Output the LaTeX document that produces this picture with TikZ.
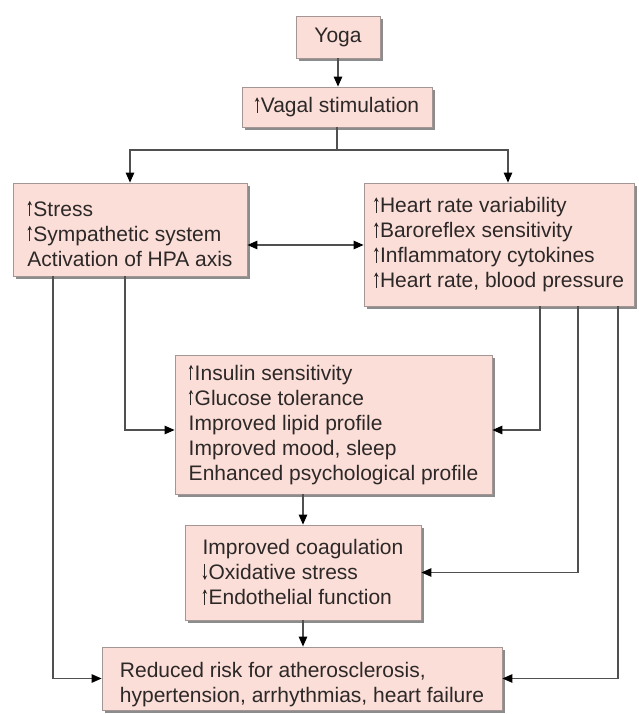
\documentclass[tikz,border=0pt]{standalone}
\usepackage{fontspec}
\setmainfont{Liberation Sans}
\usetikzlibrary{arrows.meta,shadows}
\definecolor{boxfill}{RGB}{251,222,215}
\definecolor{boxline}{RGB}{165,150,150}
\definecolor{txt}{RGB}{45,40,40}
\definecolor{conncol}{RGB}{80,80,80}
\definecolor{shade}{RGB}{140,140,140}
\newcommand\uparr{\tikz[baseline=0pt]{\draw[txt, line width=1pt, -{Stealth[length=4.5pt,width=4.5pt]}] (0pt,0pt) -- (0pt,15.5pt);}\hspace{1.5pt}}
\newcommand\dnarr{\tikz[baseline=0pt]{\draw[txt, line width=1pt, -{Stealth[length=4.5pt,width=4.5pt]}] (0pt,15.5pt) -- (0pt,0pt);}\hspace{1.5pt}}
\newcommand\topstrut[1]{\rule{0pt}{#1}}
\tikzset{
  box/.style={draw=boxline, line width=0.8pt, fill=boxfill, text=txt,
    font=\fontsize{21}{25}\selectfont, inner ysep=0pt,
    drop shadow={shadow xshift=3pt, shadow yshift=-3pt, fill=shade, opacity=1}},
  lbox/.style={box, align=left},
  tip/.tip={Triangle[length=10pt,width=8.5pt,color=black]},
  conn/.style={draw=conncol, line width=1.2pt, -tip},
  dconn/.style={draw=conncol, line width=1.2pt, tip-tip},
}
\begin{document}
\begin{tikzpicture}[x=1pt,y=-1pt]
\fill[white] (0,0) rectangle (638,714);
\useasboundingbox (0,0) rectangle (638,714);

\node[box, minimum width=84pt, minimum height=42pt] (yoga) at (338,37) {Yoga};
\node[box, minimum width=190pt, minimum height=40pt] (vagal) at (337,107) {\uparr Vagal stimulation};
\node[lbox, minimum width=234pt, minimum height=93pt] (left) at (130,229.5)
  {\topstrut{24pt}\uparr Stress\\\uparr Sympathetic system\\Activation of HPA axis};
\node[lbox, minimum width=270pt, minimum height=123pt] (right) at (499,244.5)
  {\uparr Heart rate variability\\\uparr Baroreflex sensitivity\\\uparr Inflammatory cytokines\\\uparr Heart rate, blood pressure};
\node[lbox, minimum width=317pt, minimum height=139pt] (middle) at (333.5,424.5)
  {\uparr Insulin sensitivity\\\uparr Glucose tolerance\\Improved lipid profile\\Improved mood, sleep\\Enhanced psychological profile};
\node[lbox, minimum width=236pt, minimum height=95pt] (coag) at (303,572.5)
  {Improved coagulation\\\dnarr Oxidative stress\\\uparr Endothelial function};
\node[lbox, minimum width=400pt, minimum height=63pt] (final) at (302,678.5)
  {\topstrut{27pt}Reduced risk for atherosclerosis,\\hypertension, arrhythmias, heart failure};

\coordinate (split) at (337,150);
\draw[conn] (yoga.south) -- (yoga.south |- vagal.north);
\draw[conn] (vagal.south) -- (split) -| (left.north);
\draw[conn] (split) -| ([xshift=9pt]right.north);
\draw[dconn] ([yshift=-15.5pt]left.east) -- ([yshift=-15.5pt]left.east -| right.west);

\draw[conn] ([xshift=-5pt]left.south) |- ([yshift=-5.5pt]middle.west);
\draw[conn] ([xshift=-77pt]left.south) |- (final.west);
\draw[conn] ([xshift=41pt]right.south) |- ([yshift=-5.5pt]middle.east);
\draw[conn] ([xshift=79pt]right.south) |- (coag.east);
\draw[conn] ([xshift=119pt]right.south) |- (final.east);
\draw[conn] (middle.south -| coag.north) -- (coag.north);
\draw[conn] (coag.south) -- (coag.south |- final.north);
\end{tikzpicture}
\end{document}
